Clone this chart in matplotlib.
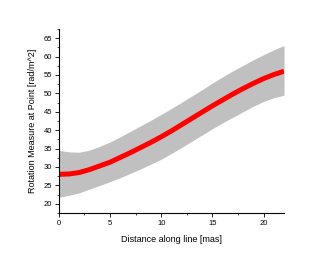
import numpy as np
from matplotlib import pyplot as plt
from matplotlib.ticker import MultipleLocator

# curve
dist = [0, 1, 2, 3, 4, 5, 6, 7, 8, 9, 10, 11, 12, 13, 14, 15, 16, 17, 18, 19, 20, 21, 22]
rm = [28.0, 28.1, 28.5, 29.3, 30.3, 31.3, 32.6, 33.9, 35.3, 36.7, 38.2, 39.8, 41.5, 43.2,
      44.9, 46.6, 48.2, 49.8, 51.3, 52.7, 54.0, 55.1, 56.0]
rm_hi = [34.5, 34.1, 34.0, 34.6, 35.6, 36.8, 38.2, 39.7, 41.2, 42.7, 44.3, 45.9, 47.6, 49.3,
         51.0, 52.8, 54.5, 56.1, 57.6, 59.1, 60.5, 61.8, 63.0]
rm_lo = [21.8, 22.3, 23.0, 24.0, 25.0, 26.0, 27.1, 28.3, 29.5, 30.8, 32.1, 33.7, 35.3, 37.0,
         38.7, 40.4, 42.0, 43.5, 45.0, 46.5, 47.8, 48.8, 49.5]

plt.rcParams['font.family'] = ['Liberation Sans', 'DejaVu Sans']

fig = plt.figure(figsize=(3.31, 2.56), dpi=100)
ax = fig.add_axes([0.178, 0.168, 0.68, 0.719])

ax.fill_between(dist, rm_lo, rm_hi, color='#c0c0c0', linewidth=0)
ax.plot(dist, rm, color='#ff0000', linewidth=3.6, solid_capstyle='butt')

ax.set_xlim(0, 22)
ax.set_ylim(17.5, 67.5)
ax.xaxis.set_major_locator(MultipleLocator(5))
ax.xaxis.set_minor_locator(MultipleLocator(2.5))
ax.yaxis.set_major_locator(MultipleLocator(5))
ax.yaxis.set_minor_locator(MultipleLocator(2.5))
ax.spines['top'].set_visible(False)
ax.spines['right'].set_visible(False)
for s in ['left', 'bottom']:
    ax.spines[s].set_linewidth(0.8)
ax.tick_params(which='major', length=3, width=0.6, labelsize=5.5, pad=2)
ax.tick_params(which='minor', length=1.5, width=0.5)

ax.set_xlabel('Distance along line [mas]', fontsize=6.5, labelpad=6)
ax.set_ylabel('Rotation Measure at Point [rad/m^2]', fontsize=6.5, labelpad=5)

fig.savefig('out.png', dpi=100)
